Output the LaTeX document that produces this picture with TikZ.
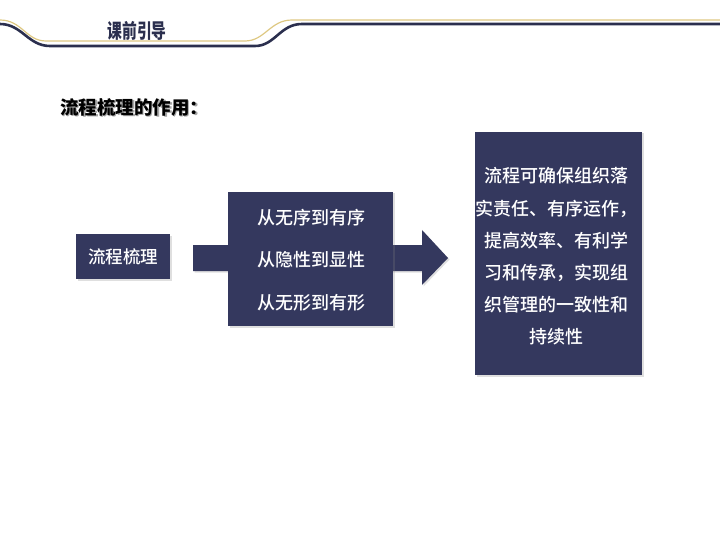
\documentclass[tikz,border=0pt]{standalone}
\usepackage{fontspec}
\setmainfont{Noto Sans CJK SC}
\newfontfamily\cjk{Noto Sans CJK SC Medium}
\newfontfamily\cjkbold{Noto Sans CJK SC Bold}
\newfontfamily\cjkblack{Noto Sans CJK SC Black}
\usetikzlibrary{shadows}
\definecolor{navy}{RGB}{52,56,94}
\definecolor{hdrnavy}{RGB}{43,47,78}
\definecolor{gold}{RGB}{222,200,130}
\tikzset{
  navybox/.style={fill=navy, draw=none, drop shadow={opacity=0.25, shadow xshift=1.5pt, shadow yshift=-1.5pt}},
  boxtext/.style={text=white, font=\cjk\fontsize{17.5}{20}\selectfont, inner sep=0pt},
}
\begin{document}
\begin{tikzpicture}[x=1pt,y=-1pt]
\useasboundingbox (0,0) rectangle (720,540);
% header lines
\draw[gold, line width=1.2pt] (0,20) .. controls (22,20) and (26,41) .. (46,41) -- (245,41) .. controls (265,41) and (270,20) .. (292,20) -- (720,20);
\draw[hdrnavy, line width=2.6pt] (0,24) .. controls (22,24) and (28,46) .. (50,46) -- (255,46) .. controls (275,46) and (280,24) .. (302,24) -- (720,24);
\node[text=hdrnavy, inner sep=0pt] (hdr) at (137,31) {\scalebox{0.74}[1]{\cjkblack\fontsize{20}{22}\selectfont 课前引导}};
% subtitle with shadow
\node[anchor=west, text=black!35, inner sep=0pt] (subsh) at (61.5,108.5) {\cjkblack\fontsize{18.5}{20}\selectfont 流程梳理的作用：};
\node[anchor=west, text=black, inner sep=0pt] (sub) at (60,107) {\cjkblack\fontsize{18.5}{20}\selectfont 流程梳理的作用：};
% big arrow
\fill[navy, drop shadow={opacity=0.25, shadow xshift=1.5pt, shadow yshift=-1.5pt}] (193,245) -- (422,245) -- (422,230) -- (448,258) -- (422,285) -- (422,271) -- (193,271) -- cycle;
% left box
\node[navybox, minimum width=94pt, minimum height=45pt, inner sep=0pt] (lbox) at (123,256.5) {};
\node[boxtext] (ltext) at (lbox.center) {流程梳理};
% middle box
\node[navybox, minimum width=165pt, minimum height=134pt, inner sep=0pt] (mbox) at (310.5,259) {};
\node[boxtext, font=\cjk\fontsize{18}{20}\selectfont] (m1) at (311,217.5) {从无序到有序};
\node[boxtext, font=\cjk\fontsize{18}{20}\selectfont] (m2) at (311,260) {从隐性到显性};
\node[boxtext, font=\cjk\fontsize{18}{20}\selectfont] (m3) at (311,302.5) {从无形到有形};
% right box
\node[navybox, minimum width=167pt, minimum height=243pt, inner sep=0pt] (rbox) at (558.5,253.5) {};
\node[text=white, inner sep=0pt, align=center, font=\cjk\fontsize{18}{32.2}\selectfont] (rtext) at (556,256.5) {流程可确保组织落\\实责任、有序运作，\\提高效率、有利学\\习和传承，实现组\\织管理的一致性和\\持续性};
\end{tikzpicture}
\end{document}
